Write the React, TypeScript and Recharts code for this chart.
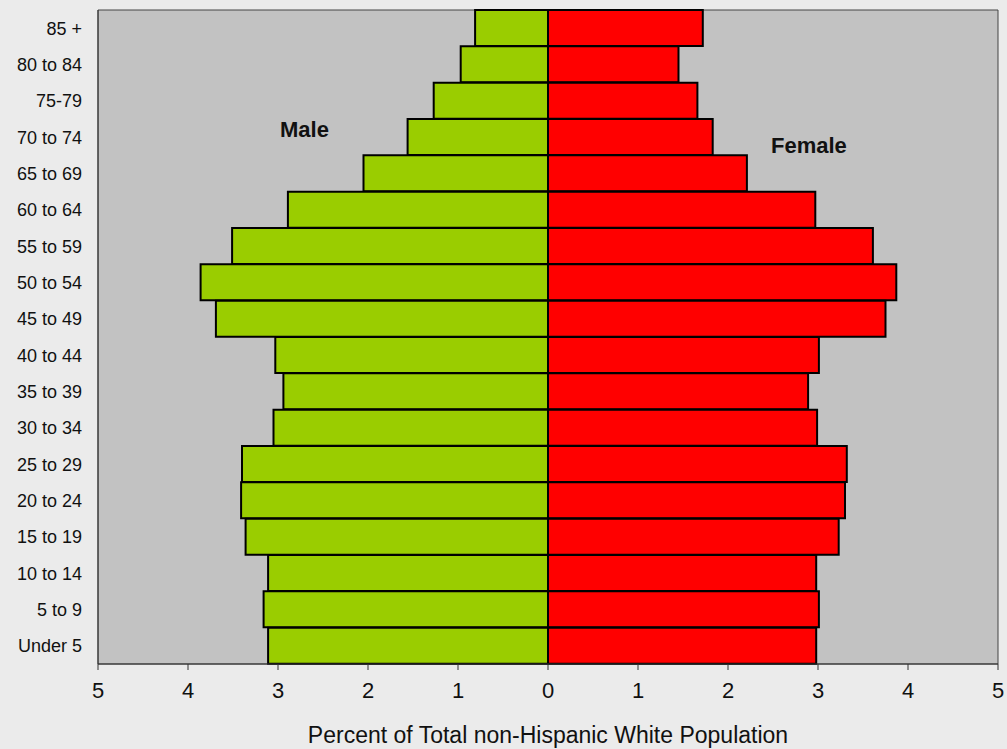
import { BarChart, Bar, XAxis, YAxis, CartesianGrid, ReferenceArea, Label } from "recharts";

// age groups, top of the pyramid first
const ageGroups = [
  "85 +", "80 to 84", "75-79", "70 to 74", "65 to 69", "60 to 64",
  "55 to 59", "50 to 54", "45 to 49", "40 to 44", "35 to 39", "30 to 34",
  "25 to 29", "20 to 24", "15 to 19", "10 to 14", "5 to 9", "Under 5",
];

// percent of total non-Hispanic white population
const malePct = [
  0.81, 0.97, 1.27, 1.56, 2.05, 2.89, 3.51, 3.86, 3.69, 3.03,
  2.94, 3.05, 3.40, 3.41, 3.36, 3.11, 3.16, 3.11,
];
const femalePct = [
  1.72, 1.45, 1.66, 1.83, 2.21, 2.97, 3.61, 3.87, 3.75, 3.01,
  2.89, 2.99, 3.32, 3.30, 3.23, 2.98, 3.01, 2.98,
];

const xTicks = [-5, -4, -3, -2, -1, 0, 1, 2, 3, 4, 5];

const data = ageGroups.map((age, i) => ({
  age,
  male: -malePct[i],
  female: femalePct[i],
}));

const font = "Arial, 'Liberation Sans', sans-serif";

export default function App() {
  return (
    <div
      style={{
        position: "absolute",
        left: 0,
        top: 0,
        width: 1007,
        height: 749,
        background: "#ebebeb",
        fontFamily: font,
      }}
    >
      <BarChart
        width={1007}
        height={749}
        data={data}
        layout="vertical"
        stackOffset="sign"
        barCategoryGap={0}
        margin={{ top: 10, right: 9, bottom: 0, left: 0 }}
      >
        <CartesianGrid horizontal={false} vertical={false} fill="#c2c2c2" />
        <XAxis
          type="number"
          domain={[-5, 5]}
          ticks={xTicks}
          tickFormatter={(v: number) => `${Math.abs(v)}`}
          tick={{ fill: "#111", fontSize: 22, fontFamily: font }}
          tickLine={{ stroke: "#333" }}
          axisLine={{ stroke: "#333" }}
          tickSize={6}
          tickMargin={12}
          height={85}
        >
          <Label
            value="Percent of Total non-Hispanic White Population"
            position="insideBottom"
            offset={6}
            style={{ fill: "#111", fontSize: 23, fontFamily: font }}
          />
        </XAxis>
        <YAxis
          type="category"
          dataKey="age"
          width={98}
          tickLine={false}
          tickSize={0}
          tickMargin={16}
          axisLine={{ stroke: "#333" }}
          tick={{ fill: "#111", fontSize: 18, fontFamily: font }}
          interval={0}
        />
        <ReferenceArea x1={-5} x2={5} fill="none" stroke="#444" strokeWidth={1} ifOverflow="visible" />
        <Bar dataKey="male" stackId="p" fill="#9acd00" stroke="#000" strokeWidth={2} isAnimationActive={false} />
        <Bar dataKey="female" stackId="p" fill="#ff0000" stroke="#000" strokeWidth={2} isAnimationActive={false} />
      </BarChart>
      <div style={{ position: "absolute", left: 280, top: 117, fontSize: 22, fontWeight: "bold", color: "#111" }}>
        Male
      </div>
      <div style={{ position: "absolute", left: 771, top: 133, fontSize: 22, fontWeight: "bold", color: "#111" }}>
        Female
      </div>
    </div>
  );
}
